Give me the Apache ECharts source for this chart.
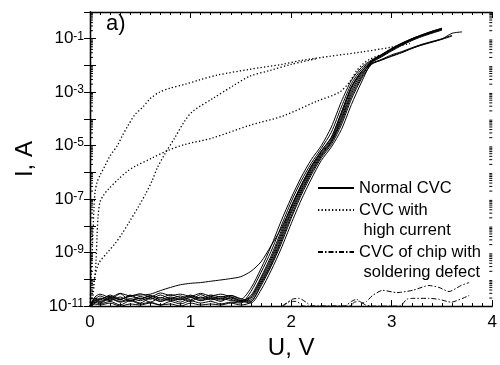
<!DOCTYPE html>
<html>
<head>
<meta charset="utf-8">
<script src="https://cdn.jsdelivr.net/npm/echarts@6/dist/echarts.min.js"></script>
<style>
html, body { margin: 0; padding: 0; background: #fff; }
#chart { width: 500px; height: 365px; }
</style>
</head>
<body>
<div id="chart"></div>
<script>
// voltage grid (V) shared by the normal CVC curves
var voltage = [0, 0.05, 0.1, 0.2, 0.3, 0.4, 0.5, 0.6, 0.7, 0.8, 0.9, 1.0, 1.1, 1.2, 1.3, 1.4, 1.5,
    1.6, 1.7, 1.8, 1.9, 2.0, 2.1, 2.2, 2.3, 2.4, 2.5, 2.6, 2.7, 2.8, 2.9, 3.0, 3.1, 3.2, 3.3, 3.4, 3.5, 3.6, 3.7];

// current (A) of the normal chips
var normal1 = [1.0e-11, 2.0e-11, 1.7e-11, 2.6e-11, 1.8e-11, 2.3e-11, 1.9e-11, 2.5e-11, 2.0e-11, 2.7e-11, 2.1e-11, 2.4e-11, 2.0e-11, 2.6e-11, 2.2e-11, 2.5e-11, 1.8e-11,
    4.7e-11, 2.5e-10, 1.7e-9, 1.5e-8, 1.1e-7, 6.6e-7, 3.0e-6, 1.0e-5, 5.0e-5, 4.5e-4, 2.8e-3, 8.5e-3, 0.016, 0.026, 0.044, 0.069, 0.10, 0.14, 0.19, 0.25, null, null];
var normal2 = [1.0e-11, 1.4e-11, 1.2e-11, 1.5e-11, 1.1e-11, 1.6e-11, 1.2e-11, 1.4e-11, 1.1e-11, 1.5e-11, 1.2e-11, 1.6e-11, 1.3e-11, 1.5e-11, 1.2e-11, 1.4e-11, 1.3e-11,
    3.5e-11, 1.8e-10, 1.1e-9, 9.5e-9, 7.9e-8, 4.8e-7, 2.2e-6, 7.9e-6, 3.2e-5, 2.8e-4, 2.1e-3, 7.2e-3, 0.015, 0.025, 0.042, 0.066, 0.10, 0.14, 0.19, 0.24, null, null];
var normal3 = [1.0e-11, 1.6e-11, 1.3e-11, 1.9e-11, 1.4e-11, 1.7e-11, 1.3e-11, 2.0e-11, 1.5e-11, 1.8e-11, 1.4e-11, 2.1e-11, 1.6e-11, 1.9e-11, 1.5e-11, 2.2e-11, 1.6e-11,
    2.2e-11, 1.05e-10, 6.0e-10, 5.0e-9, 4.5e-8, 2.9e-7, 1.5e-6, 5.6e-6, 1.7e-5, 1.4e-4, 1.4e-3, 5.6e-3, 0.014, 0.024, 0.040, 0.063, 0.095, 0.13, 0.18, 0.23, null, null];
var normal4 = [1.0e-11, 1.8e-11, 2.4e-11, 1.7e-11, 2.9e-11, 1.6e-11, 2.3e-11, 1.8e-11, 2.6e-11, 1.9e-11, 2.4e-11, 1.7e-11, 2.7e-11, 1.9e-11, 2.3e-11, 1.8e-11, 1.4e-11,
    1.7e-11, 7.6e-11, 4.0e-10, 3.2e-9, 3.0e-8, 2.0e-7, 1.1e-6, 4.5e-6, 1.4e-5, 9.3e-5, 8.9e-4, 4.3e-3, 0.013, 0.022, 0.037, 0.059, 0.089, 0.13, 0.17, 0.22, null, null];
var normal5 = [1.0e-11, 1.2e-11, 1.1e-11, 1.3e-11, 1.0e-11, 1.2e-11, 1.1e-11, 1.3e-11, 1.1e-11, 1.2e-11, 1.0e-11, 1.3e-11, 1.1e-11, 1.2e-11, 1.1e-11, 1.3e-11, 1.1e-11,
    1.4e-11, 5.6e-11, 3.0e-10, 2.1e-9, 1.9e-8, 1.4e-7, 7.9e-7, 3.5e-6, 1.1e-5, 6.0e-5, 5.6e-4, 3.2e-3, 0.011, 0.016, 0.022, 0.030, 0.043, 0.058, 0.074, 0.095, 0.126, null];
var normal6 = [1.0e-11, 2.2e-11, 2.8e-11, 2.1e-11, 3.0e-11, 2.4e-11, 2.9e-11, 2.2e-11, 3.1e-11, 2.5e-11, 2.8e-11, 2.3e-11, 3.0e-11, 2.4e-11, 2.8e-11, 2.2e-11, 1.6e-11,
    1.3e-11, 4.0e-11, 2.1e-10, 1.4e-9, 1.2e-8, 9.3e-8, 5.6e-7, 2.8e-6, 8.9e-6, 4.0e-5, 3.5e-4, 2.4e-3, 0.0126, 0.021, 0.035, 0.056, 0.085, 0.12, 0.16, 0.21, null, null];
var normal7 = [1.0e-11, 1.5e-11, 2.0e-11, 1.6e-11, 2.2e-11, 1.5e-11, 2.0e-11, 1.4e-11, 2.1e-11, 1.6e-11, 1.9e-11, 1.5e-11, 2.2e-11, 1.7e-11, 2.0e-11, 1.6e-11, 1.5e-11,
    2.5e-11, 1.2e-10, 7.4e-10, 6.3e-9, 5.4e-8, 3.4e-7, 1.7e-6, 6.3e-6, 2.1e-5, 1.8e-4, 1.6e-3, 6.0e-3, 0.012, 0.017, 0.025, 0.033, 0.046, 0.062, 0.079, 0.10, 0.135, null];
var normal8 = [1.0e-11, 1.3e-11, 1.8e-11, 2.3e-11, 1.7e-11, 2.6e-11, 1.8e-11, 2.4e-11, 1.7e-11, 2.2e-11, 1.8e-11, 2.6e-11, 1.8e-11, 2.3e-11, 1.9e-11, 2.5e-11, 1.9e-11,
    1.5e-11, 6.6e-11, 3.4e-10, 2.6e-9, 2.3e-8, 1.7e-7, 9.5e-7, 4.0e-6, 1.3e-5, 7.6e-5, 7.1e-4, 3.7e-3, 0.014, 0.023, 0.039, 0.062, 0.093, 0.13, 0.17, 0.23, null, null];
var normal9 = [1.0e-11, 1.7e-11, 1.4e-11, 2.0e-11, 1.5e-11, 1.9e-11, 1.6e-11, 2.1e-11, 1.5e-11, 2.0e-11, 1.7e-11, 2.2e-11, 1.6e-11, 2.1e-11, 1.7e-11, 2.0e-11, 1.5e-11,
    2.0e-11, 8.9e-11, 4.9e-10, 4.0e-9, 3.6e-8, 2.4e-7, 1.3e-6, 5.0e-6, 1.5e-5, 1.1e-4, 1.1e-3, 5.0e-3, 0.0115, 0.016, 0.023, 0.031, 0.044, 0.059, 0.076, 0.098, 0.16, 0.18];
var normal10 = [1.0e-11, 1.9e-11, 1.5e-11, 2.2e-11, 1.8e-11, 2.4e-11, 2.6e-11, 2.8e-11, 3.8e-11, 5.0e-11, 6.3e-11, 7.1e-11, 7.6e-11, 8.5e-11, 9.5e-11, 1.07e-10, 1.26e-10,
    2.0e-10, 4.5e-10, 1.8e-9, 7.9e-9, 5.0e-8, 3.2e-7, 1.7e-6, 6.3e-6, 2.0e-5, 1.7e-4, 1.6e-3, 6.0e-3, 0.0145, 0.025, 0.041, 0.065, 0.098, 0.135, 0.18, 0.24, null, null];

// [U (V), I (A)] of the chips with high current
var highCurrent1 = [[0, 1e-11], [0.01, 9.1e-11], [0.02, 7.4e-10], [0.03, 6.2e-9], [0.04, 5.1e-8], [0.05, 1.8e-7],
    [0.07, 4.3e-7], [0.10, 7.8e-7], [0.15, 1.8e-6], [0.20, 4.2e-6], [0.27, 9.8e-6], [0.32, 2.3e-5], [0.38, 5.8e-5],
    [0.45, 1.5e-4], [0.53, 2.9e-4], [0.60, 5.8e-4], [0.69, 1.0e-3], [0.79, 1.4e-3], [0.95, 2.0e-3], [1.09, 2.9e-3],
    [1.27, 4.4e-3], [1.59, 7.2e-3], [1.91, 0.011], [2.08, 0.015], [2.38, 0.022], [2.68, 0.031], [2.98, 0.047], [3.18, 0.066]];
var highCurrent2 = [[0.02, 1e-11], [0.04, 5.9e-11], [0.06, 4.9e-10], [0.07, 4.1e-9], [0.08, 2.2e-8], [0.10, 7.9e-8],
    [0.14, 1.5e-7], [0.18, 2.3e-7], [0.28, 5.5e-7], [0.37, 1.1e-6], [0.45, 1.7e-6], [0.62, 3.5e-6], [0.77, 6.5e-6],
    [0.94, 1.1e-5], [1.21, 1.9e-5], [1.59, 5.8e-5], [1.92, 1.3e-4], [2.25, 4.5e-4], [2.48, 1.0e-3], [2.58, 2.4e-3],
    [2.65, 6.2e-3], [2.71, 0.011], [2.78, 0.017], [2.9, 0.026]];
var highCurrent3 = [[0.01, 1e-11], [0.03, 5.9e-11], [0.06, 1.9e-10], [0.09, 4.2e-10], [0.17, 9.8e-10], [0.25, 2.2e-9],
    [0.32, 5.2e-9], [0.38, 1.2e-8], [0.48, 5.1e-8], [0.55, 1.5e-7], [0.62, 5.1e-7], [0.67, 1.5e-6], [0.74, 4.6e-6],
    [0.84, 1.9e-5], [0.94, 8.1e-5], [1.02, 1.9e-4], [1.22, 5.8e-4], [1.42, 1.7e-3], [1.59, 4.0e-3], [1.79, 6.5e-3],
    [2.0, 0.011], [2.25, 0.018]];

// [U (V), I (A)] of the chip with soldering defect
var defect1 = [[1.92, 1e-11], [2.01, 1.8e-11], [2.08, 1.95e-11], [2.16, 1.3e-11], [2.20, 1e-11], [2.53, 1e-11],
    [2.60, 1.5e-11], [2.65, 1.8e-11], [2.71, 1.3e-11], [2.75, 1.5e-11], [2.81, 2.5e-11], [2.91, 3.9e-11], [3.05, 3.2e-11],
    [3.21, 3.9e-11], [3.37, 5.9e-11], [3.47, 5.0e-11], [3.57, 3.5e-11], [3.69, 5.9e-11], [3.77, 7.6e-11]];
var defect2 = [[1.91, 1e-11], [1.99, 1.5e-11], [2.05, 1.5e-11], [2.13, 1e-11], [2.58, 1e-11], [2.63, 1.4e-11],
    [2.68, 1.5e-11], [2.74, 1.1e-11], [2.80, 1e-11], [3.08, 1e-11], [3.15, 1.8e-11], [3.21, 1.95e-11], [3.37, 1.95e-11],
    [3.47, 1.8e-11], [3.59, 1.4e-11], [3.77, 2.5e-11]];

// decades and the in-between minor ticks of the current axis
var decades = [1e-11, 1e-10, 1e-9, 1e-8, 1e-7, 1e-6, 1e-5, 1e-4, 1e-3, 1e-2, 1e-1];
var minorSteps = [2, 3, 4, 5, 6, 7, 8, 9];

// leading empty line keeps the legend line level with the first text line
var legendNames = {
    'Normal CVC': 'Normal CVC',
    'CVC with high current': '\nCVC with\n high current',
    'CVC of chip with soldering defect': '\nCVC of chip with\n soldering defect'
};

var font = '"Liberation Sans", Arial, sans-serif';
var myChart = echarts.init(document.getElementById('chart'));

function pairs(values) {
    var res = [];
    for (var i = 0; i < voltage.length; i++) {
        if (values[i] != null) res.push([voltage[i], values[i]]);
    }
    return res;
}

var minorTicks = [];
decades.forEach(function (d) {
    minorSteps.forEach(function (m) { minorTicks.push([0, m * d]); });
});

var series = [];
[normal1, normal2, normal3, normal4, normal5, normal6, normal7, normal8, normal9, normal10].forEach(function (c) {
    series.push({
        name: 'Normal CVC', type: 'line', data: pairs(c), symbol: 'none', smooth: 0.25,
        lineStyle: { color: '#000', width: 1 }, itemStyle: { color: '#000' }
    });
});
[highCurrent1, highCurrent2, highCurrent3].forEach(function (c) {
    series.push({
        name: 'CVC with high current', type: 'line', data: c, symbol: 'none', smooth: 0.3,
        lineStyle: { color: '#000', width: 1.3, type: [1.3, 2.2] }, itemStyle: { color: '#000' }
    });
});
[defect1, defect2].forEach(function (c) {
    series.push({
        name: 'CVC of chip with soldering defect', type: 'line', data: c, symbol: 'none', smooth: 0.2,
        lineStyle: { color: '#000', width: 1, type: [5, 2, 1.5, 2] }, itemStyle: { color: '#000' }
    });
});
series.push({
    name: 'minor', type: 'custom', silent: true, data: minorTicks, z: 5,
    renderItem: function (params, api) {
        var l = api.coord([0, api.value(1)]);
        var r = api.coord([4, api.value(1)]);
        return {
            type: 'group',
            children: [
                { type: 'line', shape: { x1: l[0], y1: l[1], x2: l[0] + 3, y2: l[1] }, style: { stroke: '#000', lineWidth: 1 } },
                { type: 'line', shape: { x1: r[0], y1: r[1], x2: r[0] - 3, y2: r[1] }, style: { stroke: '#000', lineWidth: 1 } }
            ]
        };
    }
});

var xBase = {
    type: 'value', min: 0, max: 4, interval: 1,
    axisLine: { lineStyle: { color: '#000', width: 1.3 } },
    axisTick: { inside: true, length: 6, lineStyle: { color: '#000', width: 1 } },
    minorTick: { show: true, splitNumber: 10, length: 3, lineStyle: { color: '#000', width: 1 } },
    splitLine: { show: false }
};
var yBase = {
    type: 'log', logBase: 10, min: 1e-11, max: 1, interval: 1,
    axisLine: { show: true, lineStyle: { color: '#000', width: 1.3 } },
    axisTick: { inside: true, length: 6, lineStyle: { color: '#000', width: 1 } },
    splitLine: { show: false }
};

var option = {
    animation: false,
    backgroundColor: '#fff',
    title: {
        text: 'a)', left: 106, top: 13, padding: 0,
        textStyle: { fontSize: 22, fontWeight: 'normal', color: '#000', fontFamily: font }
    },
    grid: { left: 90, right: 7, top: 12, bottom: 54 },
    legend: {
        orient: 'vertical', left: 317, top: 178, padding: 0, itemGap: -18,
        itemWidth: 36, itemHeight: 10,
        itemStyle: { opacity: 0 },
        formatter: function (name) { return legendNames[name]; },
        textStyle: { fontSize: 16.5, lineHeight: 20, color: '#000', fontFamily: font },
        data: ['Normal CVC', 'CVC with high current', 'CVC of chip with soldering defect']
    },
    xAxis: [
        Object.assign({}, xBase, {
            position: 'bottom', name: 'U, V', nameLocation: 'middle', nameGap: 27,
            nameTextStyle: { fontSize: 24, color: '#000', fontFamily: font },
            axisLabel: { fontSize: 17, color: '#000', fontFamily: font, margin: 8 }
        }),
        Object.assign({}, xBase, { position: 'top', axisLabel: { show: false } })
    ],
    yAxis: [
        Object.assign({}, yBase, {
            position: 'left', name: 'I, A', nameLocation: 'middle', nameGap: 50,
            nameTextStyle: { fontSize: 24, color: '#000', fontFamily: font },
            axisLabel: {
                margin: 6, fontSize: 17, color: '#000', fontFamily: font,
                formatter: function (v) {
                    var e = Math.round(Math.log10(v));
                    if (e % 2 === 0) return '';
                    return '10{sup|' + e + '}';
                },
                rich: { sup: { fontSize: 12, verticalAlign: 'top', color: '#000', fontFamily: font } }
            }
        }),
        Object.assign({}, yBase, { position: 'right', axisLabel: { show: false } })
    ],
    series: series
};

myChart.setOption(option);
</script>
</body>
</html>
